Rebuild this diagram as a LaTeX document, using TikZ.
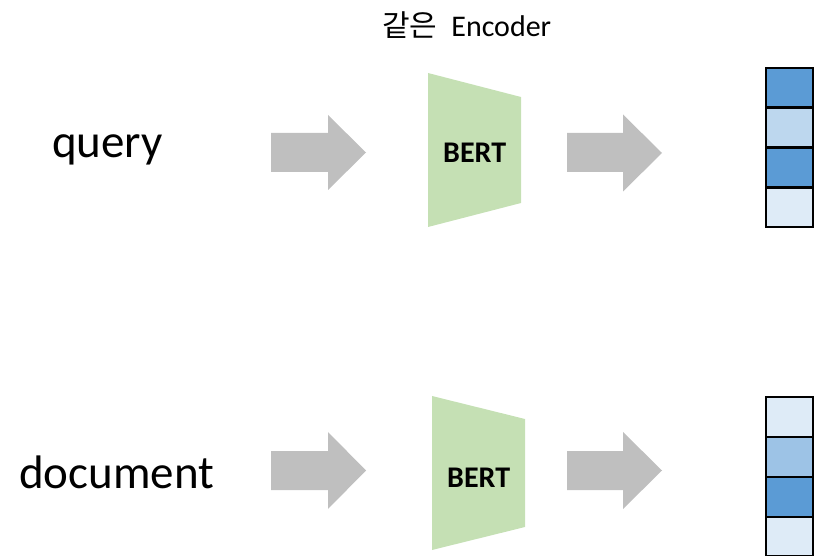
\documentclass[tikz,border=0pt]{standalone}
\usepackage{fontspec}
\setmainfont{Carlito}
\newfontfamily\krfont{Noto Sans CJK KR}
\definecolor{arrowgray}{HTML}{BFBFBF}
\definecolor{bertgreen}{HTML}{C5E0B4}
\definecolor{bluedark}{HTML}{5B9BD5}
\definecolor{bluemid}{HTML}{9DC3E6}
\definecolor{bluelight}{HTML}{BDD7EE}
\definecolor{bluepale}{HTML}{DEEBF7}
\begin{document}
\begin{tikzpicture}[x=1pt,y=-1pt,
  lbl/.style={anchor=base west,inner sep=0pt,font=\fontsize{47}{50}\selectfont},
  bertlbl/.style={anchor=base west,inner sep=0pt,font=\fontsize{30}{32}\selectfont\bfseries},
  blockarrow/.style={fill=arrowgray,draw=none},
  bertbody/.style={fill=bertgreen,draw=none},
  cell/.style={draw=black,line width=2pt,minimum width=47pt,minimum height=39.5pt,inner sep=0pt,anchor=north west}
]
\useasboundingbox (0,0) rectangle (815,556);

% title
\node[anchor=base west,inner sep=0pt,font=\fontsize{30}{32}\selectfont] (title) at (382,37) {{\krfont\fontsize{30}{33}\selectfont 같은}\hspace{14pt}Encoder};

% input labels
\node[lbl] (query) at (52,158) {query};
\node[lbl] (doc) at (19,488) {document};

% block arrows (top)
\fill[blockarrow] (271,133) coordinate (qa1s) -- (328,133) -- (328,115) -- (366,152.5) coordinate (qa1t) -- (328,190) -- (328,172) -- (271,172) -- cycle;
\fill[blockarrow] (567,133) coordinate (qa2s) -- (623,133) -- (623,114.5) -- (662,153) coordinate (qa2t) -- (623,191.5) -- (623,172) -- (567,172) -- cycle;
% block arrows (bottom)
\fill[blockarrow] (271,451) coordinate (da1s) -- (328,451) -- (328,432) -- (366,470.5) coordinate (da1t) -- (328,509) -- (328,490) -- (271,490) -- cycle;
\fill[blockarrow] (567,451) coordinate (da2s) -- (623,451) -- (623,432) -- (662,470.5) coordinate (da2t) -- (623,509) -- (623,490) -- (567,490) -- cycle;

% BERT encoders
\fill[bertbody] (428,73) coordinate (qb) -- (521,97) -- (521,203) -- (428,227) -- cycle;
\node[bertlbl] (qbert) at (443,163) {BERT};
\fill[bertbody] (432,396) coordinate (db) -- (525,419) -- (525,527) -- (432,550) -- cycle;
\node[bertlbl] (dbert) at (447,487) {BERT};

% query vector
\node[cell,fill=bluedark] (qv1) at (765,67) {};
\node[cell,fill=bluelight] (qv2) at (765,107) {};
\node[cell,fill=bluedark] (qv3) at (765,147) {};
\node[cell,fill=bluepale] (qv4) at (765,187) {};
% document vector
\node[cell,fill=bluepale] (dv1) at (765,396) {};
\node[cell,fill=bluemid] (dv2) at (765,436) {};
\node[cell,fill=bluedark] (dv3) at (765,476) {};
\node[cell,fill=bluepale] (dv4) at (765,515.5) {};
\end{tikzpicture}
\end{document}
